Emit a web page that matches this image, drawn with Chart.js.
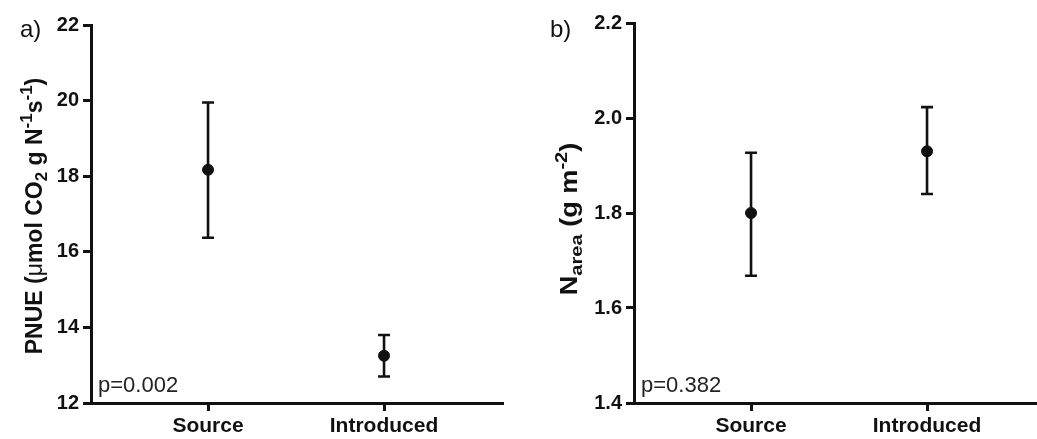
<!DOCTYPE html>
<html>
<head>
<meta charset="utf-8">
<script src="https://cdn.jsdelivr.net/npm/chart.js@4"></script>
<style>
  body { margin: 0; width: 1037px; height: 439px; overflow: hidden; position: relative; background: #fff; }
  .panel { position: absolute; top: 0; height: 439px; }
</style>
</head>
<body>
<div class="panel" style="left:0;width:520px"><canvas id="chartA" width="520" height="439"></canvas></div>
<div class="panel" style="left:520px;width:540px"><canvas id="chartB" width="540" height="439"></canvas></div>
<script>
const groups = ["Source", "Introduced"];
const groupX = [1, 2];

// panel a: PNUE mean and error bar ends
const pnueMean = [18.17, 13.25];
const pnueUpper = [19.95, 13.8];
const pnueLower = [16.37, 12.7];

// panel b: N area
const nareaMean = [1.80, 1.93];
const nareaUpper = [1.927, 2.023];
const nareaLower = [1.668, 1.84];

const FONT = "'Liberation Sans', Arial, sans-serif";

// whiskers drawn from the arrays through the chart scales
const errorBars = {
  id: "errorBars",
  beforeDatasetsDraw(chart, args, opts) {
    const { ctx, scales: { x, y } } = chart;
    ctx.save();
    ctx.strokeStyle = "#111";
    ctx.lineWidth = 2.6;
    opts.upper.forEach((hi, i) => {
      const px = x.getPixelForValue(groupX[i]);
      const top = y.getPixelForValue(hi);
      const bot = y.getPixelForValue(opts.lower[i]);
      ctx.beginPath();
      ctx.moveTo(px, top); ctx.lineTo(px, bot);
      ctx.moveTo(px - 6, top); ctx.lineTo(px + 6, top);
      ctx.moveTo(px - 6, bot); ctx.lineTo(px + 6, bot);
      ctx.stroke();
    });
    ctx.restore();
  }
};

// labels: panel letter, rotated axis title with sub/superscripts, p value
const labels = {
  id: "labels",
  afterDraw(chart, args, opts) {
    const { ctx, chartArea } = chart;
    ctx.save();
    ctx.fillStyle = "#111";
    ctx.textBaseline = "alphabetic";
    ctx.font = "24px " + FONT;
    ctx.fillText(opts.letter, opts.letterX, 37);

    ctx.fillStyle = "#222";
    ctx.font = "22px " + FONT;
    ctx.fillText(opts.p, chartArea.left + 7, chartArea.bottom - 11);

    // rotated title
    const size = opts.titleSize;
    const fontOf = s => (s.normal ? "" : "bold ") + ((s.sub || s.sup) ? Math.round(size * 0.72) : size) + "px " + FONT;
    let total = 0;
    opts.title.forEach(s => { ctx.font = fontOf(s); total += ctx.measureText(s.t).width; });
    ctx.translate(opts.titleX, opts.titleY);
    ctx.rotate(-Math.PI / 2);
    ctx.scale(opts.stretch || 1, 1);
    ctx.fillStyle = "#111";
    let cx = -total / 2;
    opts.title.forEach(s => {
      ctx.font = fontOf(s);
      const dy = s.sub ? size * 0.22 : s.sup ? -size * 0.42 : 0;
      ctx.fillText(s.t, cx, dy);
      cx += ctx.measureText(s.t).width;
    });
    ctx.restore();
  }
};

function makeChart(id, mean, upper, lower, yMin, yMax, yStep, yWidth, padTop, padRight, deco) {
  return new Chart(document.getElementById(id), {
    type: "scatter",
    data: {
      datasets: [{
        data: groupX.map((v, i) => ({ x: v, y: mean[i] })),
        backgroundColor: "#111",
        borderColor: "#111",
        pointRadius: 5.5,
        pointHoverRadius: 5.5
      }]
    },
    options: {
      responsive: false,
      animation: false,
      layout: { padding: { top: padTop, right: padRight, left: 0, bottom: 0 } },
      plugins: {
        legend: { display: false },
        tooltip: { enabled: false },
        errorBars: { upper: upper, lower: lower },
        labels: deco
      },
      scales: {
        x: {
          type: "linear",
          min: 0.335,
          max: 2.676,
          afterBuildTicks: s => { s.ticks = groupX.map(v => ({ value: v })); },
          afterFit: s => { s.height = 36; },
          ticks: {
            callback: v => groups[groupX.indexOf(v)],
            color: "#111",
            padding: 3,
            font: { family: FONT, size: 21, weight: "bold" }
          },
          grid: { drawOnChartArea: false, drawTicks: true, tickLength: 8, tickWidth: 3, tickColor: "#111" },
          border: { display: true, color: "#111", width: 3 }
        },
        y: {
          min: yMin,
          max: yMax,
          afterFit: s => { s.width = yWidth; },
          ticks: {
            stepSize: yStep,
            callback: v => yStep < 1 ? v.toFixed(1) : v,
            color: "#111",
            padding: 4,
            font: { family: FONT, size: 20, weight: "bold" }
          },
          grid: { drawOnChartArea: false, drawTicks: true, tickLength: 8, tickWidth: 3, tickColor: "#111" },
          border: { display: true, color: "#111", width: 3 }
        }
      }
    },
    plugins: [errorBars, labels]
  });
}

makeChart("chartA", pnueMean, pnueUpper, pnueLower, 12, 22, 2, 91, 25, 17, {
  letter: "a)", letterX: 20, p: "p=0.002",
  titleX: 42, titleY: 216, titleSize: 23,
  title: [
    { t: "PNUE (" }, { t: "\u03bc", normal: true }, { t: "mol CO" }, { t: "2", sub: true },
    { t: " g N" }, { t: "-1", sup: true }, { t: "s" }, { t: "-1", sup: true }, { t: ")" }
  ]
});

makeChart("chartB", nareaMean, nareaUpper, nareaLower, 1.4, 2.2, 0.2, 114, 23, 14, {
  letter: "b)", letterX: 30, p: "p=0.382",
  titleX: 57, titleY: 219, titleSize: 23, stretch: 1.18,
  title: [
    { t: "N" }, { t: "area", sub: true }, { t: " (g m" }, { t: "-2", sup: true }, { t: ")" }
  ]
});
</script>
</body>
</html>
